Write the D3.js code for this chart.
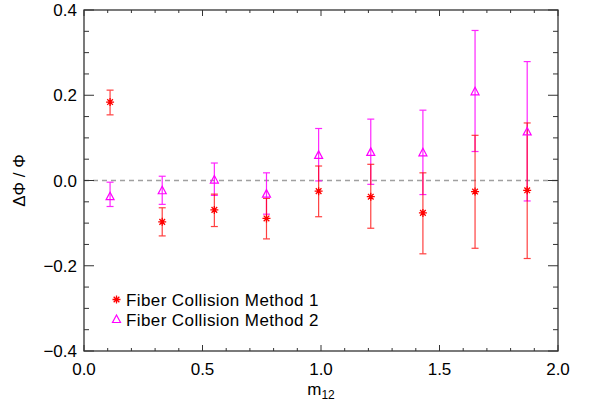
<!DOCTYPE html>
<meta charset="utf-8">
<style>
    body { margin: 0; background: #fff; }
    svg { font-family: "Liberation Sans", Arial, sans-serif; }
    .tick-label { font-size: 17px; fill: #000; }
    .legend-label { font-size: 17px; letter-spacing: 0.4px; fill: #000; }
</style>
<svg width="589" height="403"></svg>
<script src="https://d3js.org/d3.v7.min.js"></script>
<script>
// data
var m12 = [0.11, 0.33, 0.55, 0.77, 0.99, 1.21, 1.43, 1.65, 1.87];

var method1 = [0.184, -0.097, -0.069, -0.089, -0.025, -0.038, -0.076, -0.026, -0.023];
var method1Lo = [0.154, -0.130, -0.108, -0.137, -0.085, -0.112, -0.172, -0.159, -0.183];
var method1Hi = [0.212, -0.064, -0.032, -0.042, 0.034, 0.038, 0.018, 0.106, 0.135];

var method2 = [-0.038, -0.024, 0.001, -0.032, 0.059, 0.066, 0.065, 0.208, 0.114];
var method2Lo = [-0.061, -0.056, -0.035, -0.079, -0.001, -0.009, -0.033, 0.068, -0.048];
var method2Hi = [-0.004, 0.010, 0.041, 0.018, 0.122, 0.144, 0.165, 0.352, 0.279];

var xTickLabels = ["0.0", "0.5", "1.0", "1.5", "2.0"];
var yTickLabels = ["-0.4", "-0.2", "0.0", "0.2", "0.4"];

var svg = d3.select("svg"),
    margin = {top: 10, right: 31, bottom: 52, left: 84},
    width = 589 - margin.left - margin.right,   // plot box width
    height = 403 - margin.top - margin.bottom;  // plot box height

var x = d3.scaleLinear().domain([0, 2]).range([0, width]),
    y = d3.scaleLinear().domain([-0.4, 0.4]).range([height, 0]);

var g = svg.append("g")
    .attr("transform", "translate(" + margin.left + "," + margin.top + ")");

// zero line
g.append("line")
    .attr("x1", 0).attr("x2", width)
    .attr("y1", y(0)).attr("y2", y(0))
    .attr("stroke", "#a0a0a0")
    .attr("stroke-width", 1.3)
    .attr("stroke-dasharray", "5,4");

// series (method 2 under method 1)
function errorBars(vals, lo, hi, color, opacity) {
    var s = g.append("g").attr("stroke", color).attr("stroke-width", 1.2).attr("opacity", opacity);
    vals.forEach(function(v, i) {
        var cx = x(m12[i]);
        s.append("line").attr("x1", cx).attr("x2", cx).attr("y1", y(lo[i])).attr("y2", y(hi[i]));
        s.append("line").attr("x1", cx - 3.5).attr("x2", cx + 3.5).attr("y1", y(lo[i])).attr("y2", y(lo[i]));
        s.append("line").attr("x1", cx - 3.5).attr("x2", cx + 3.5).attr("y1", y(hi[i])).attr("y2", y(hi[i]));
    });
}

function triangle(sel, cx, cy) {
    sel.append("path")
        .attr("d", "M" + cx + "," + (cy - 4.5) + "L" + (cx + 4) + "," + (cy + 3) + "L" + (cx - 4) + "," + (cy + 3) + "Z")
        .attr("fill", "none").attr("stroke", "#ff00ff").attr("stroke-width", 1.2);
}

function asterisk(sel, cx, cy) {
    var r = 4, p = "";
    [0, 45, 90, 135].forEach(function(a) {
        var t = a * Math.PI / 180;
        p += "M" + (cx - r * Math.cos(t)) + "," + (cy - r * Math.sin(t)) + "L" + (cx + r * Math.cos(t)) + "," + (cy + r * Math.sin(t));
    });
    sel.append("path").attr("d", p).attr("stroke", "#ff0000").attr("stroke-width", 1.3).attr("fill", "none");
}

errorBars(method2, method2Lo, method2Hi, "#ff00ff", 0.85);
errorBars(method1, method1Lo, method1Hi, "#ff0000", 0.75);

method2.forEach(function(v, i) { triangle(g, x(m12[i]), y(v)); });
method1.forEach(function(v, i) { asterisk(g, x(m12[i]), y(v)); });

// frame
g.append("rect")
    .attr("width", width).attr("height", height)
    .attr("fill", "none").attr("stroke", "#333").attr("stroke-width", 1.3);

// ticks inward on all four sides
var xMinor = d3.range(0, 2.0001, 0.1), yMinor = d3.range(-0.4, 0.4001, 0.05);
xMinor.forEach(function(t) {
    var major = Math.abs(t * 2 - Math.round(t * 2)) < 1e-6, len = major ? 6 : 3;
    g.append("line").attr("x1", x(t)).attr("x2", x(t)).attr("y1", height).attr("y2", height - len).attr("stroke", "#333");
    g.append("line").attr("x1", x(t)).attr("x2", x(t)).attr("y1", 0).attr("y2", len).attr("stroke", "#333");
});
yMinor.forEach(function(t) {
    var major = Math.abs(t * 5 - Math.round(t * 5)) < 1e-6, len = major ? 10 : 5;
    g.append("line").attr("x1", 0).attr("x2", len).attr("y1", y(t)).attr("y2", y(t)).attr("stroke", "#333");
    g.append("line").attr("x1", width).attr("x2", width - len).attr("y1", y(t)).attr("y2", y(t)).attr("stroke", "#333");
});

// tick labels
xTickLabels.forEach(function(l) {
    g.append("text").attr("class", "tick-label")
        .attr("x", x(+l)).attr("y", height + 24)
        .attr("text-anchor", "middle").text(l);
});
yTickLabels.forEach(function(l) {
    g.append("text").attr("class", "tick-label")
        .attr("x", -7).attr("y", y(+l)).attr("dy", "0.36em")
        .attr("text-anchor", "end").text(l.replace("-", "\u2212"));
});

// axis titles
var xt = svg.append("text").attr("class", "tick-label")
    .attr("x", margin.left + x(1)).attr("y", 395).attr("text-anchor", "middle");
xt.append("tspan").text("m");
xt.append("tspan").attr("dy", 4).attr("font-size", "12px").text("12");

svg.append("text").attr("class", "tick-label")
    .attr("transform", "translate(25," + (margin.top + y(0)) + ") rotate(-90)")
    .attr("text-anchor", "middle").text("\u0394\u03A6 / \u03A6");

// legend
var legend = [{label: "Fiber Collision Method 1", draw: asterisk},
              {label: "Fiber Collision Method 2", draw: triangle}];
legend.forEach(function(d, i) {
    var ly = 299.5 + i * 20;
    d.draw(svg, 116.5, ly);
    svg.append("text").attr("class", "legend-label")
        .attr("x", 126).attr("y", ly).attr("dy", "0.36em").text(d.label);
});
</script>
